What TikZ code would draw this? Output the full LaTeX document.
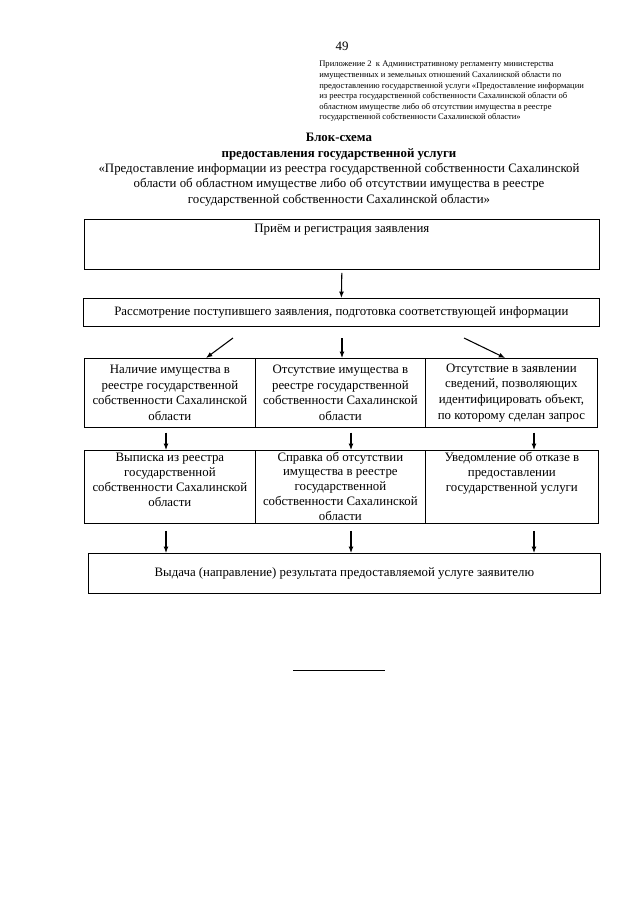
\documentclass[tikz,border=0pt]{standalone}
\usepackage{fontspec}
\setmainfont{Liberation Serif}
\usetikzlibrary{arrows,arrows.meta}
\newcommand{\pxu}{0.328125mm}

\begin{document}
\begin{tikzpicture}[x=0.328125mm, y=-0.328125mm,
  every node/.style = {align=center, inner sep=1pt,
    font=\fontsize{12}{14.6}\selectfont}]
    \tikzstyle{blk}=[draw, line width=0.7pt, anchor=north west]
    \tikzstyle{arr}=[-{Latex[length=2.1mm,width=1.6mm]}, line width=1pt]
    \tikzstyle{top}=[anchor=north, inner sep=3pt, font=\fontsize{12}{13.8}\selectfont]
    \useasboundingbox (0,0) rectangle (640,905);

  \node (page) at (342,46) {49};
  \node[anchor=north west, align=left, font=\fontsize{8}{9.9}\selectfont] (app) at (318,60)
    {Приложение 2 \ к Административному регламенту министерства\\
     имущественных и земельных отношений Сахалинской области по\\
     предоставлению государственной услуги «Предоставление информации\\
     из реестра государственной собственности Сахалинской области об\\
     областном имуществе либо об отсутствии имущества в реестре\\
     государственной собственности Сахалинской области»};
  \node[anchor=north, font=\fontsize{12}{14.4}\selectfont] (title) at (339,132)
    {\textbf{Блок-схема}\\
     \textbf{предоставления государственной услуги}\\
     «Предоставление информации из реестра государственной собственности Сахалинской\\
     области об областном имуществе либо об отсутствии имущества в реестре\\
     государственной собственности Сахалинской области»};

  % boxes
  \node[blk, minimum width=515*\pxu, minimum height=50*\pxu] (b1) at (84,219) {};
  \node[top, inner sep=5pt] (t1) at (b1.north) {Приём и регистрация заявления};
  \node[blk, minimum width=516*\pxu, minimum height=28*\pxu] (b2) at (83,298)
    {Рассмотрение поступившего заявления, подготовка соответствующей информации};

  \node[blk, minimum width=171*\pxu, minimum height=69*\pxu] (r1) at (84,358)
    {Наличие имущества в\\ реестре государственной\\ собственности Сахалинской\\ области};
  \node[blk, minimum width=170*\pxu, minimum height=69*\pxu] (r2) at (255,358)
    {Отсутствие имущества в\\ реестре государственной\\ собственности Сахалинской\\ области};
  \node[blk, minimum width=172*\pxu, minimum height=69*\pxu] (r3) at (425,358)
    {Отсутствие в заявлении\\ сведений, позволяющих\\ идентифицировать объект,\\ по которому сделан запрос};

  \node[blk, minimum width=171*\pxu, minimum height=73*\pxu] (d1) at (84,450) {};
  \node[blk, minimum width=170*\pxu, minimum height=73*\pxu] (d2) at (255,450) {};
  \node[blk, minimum width=173*\pxu, minimum height=73*\pxu] (d3) at (425,450) {};
  \node[top] (t2) at (d1.north)
    {Выписка из реестра\\ государственной\\ собственности Сахалинской\\ области};
  \node[top, inner sep=1.5pt] (t3) at (d2.north)
    {Справка об отсутствии\\ имущества в реестре\\ государственной\\ собственности Сахалинской\\ области};
  \node[top, inner sep=2pt] (t4) at (d3.north)
    {Уведомление об отказе в\\ предоставлении\\ государственной услуги};

  \node[blk, minimum width=512*\pxu, minimum height=40*\pxu] (b5) at (88,553)
    {Выдача (направление) результата предоставляемой услуге заявителю};

  % arrows
  \coordinate (s1) at (233,338);
  \coordinate (s2) at (342,338);
  \coordinate (s3) at (464,338);
  \coordinate (k1) at (166,0);
  \coordinate (k2) at (351,0);
  \coordinate (k3) at (534,0);

  \draw[arr, shorten <=1mm] (b1.south) -- (b2.north);
  \draw[arr] (s1) -- (r1.44);
  \draw[arr] (s2) -- (r2.north -| s2);
  \draw[arr] (s3) -- (r3.100);
  \draw[arr, shorten <=1.6mm] (r1.south -| k1) -- (d1.north -| k1);
  \draw[arr, shorten <=1.6mm] (r2.south -| k2) -- (d2.north -| k2);
  \draw[arr, shorten <=1.6mm] (r3.south -| k3) -- (d3.north -| k3);
  \draw[arr, shorten <=2.3mm] (d1.south -| k1) -- (b5.north -| k1);
  \draw[arr, shorten <=2.3mm] (d2.south -| k2) -- (b5.north -| k2);
  \draw[arr, shorten <=2.3mm] (d3.south -| k3) -- (b5.north -| k3);

  \draw[line width=0.7pt] (293,670) -- (385,670);
\end{tikzpicture}
\end{document}
